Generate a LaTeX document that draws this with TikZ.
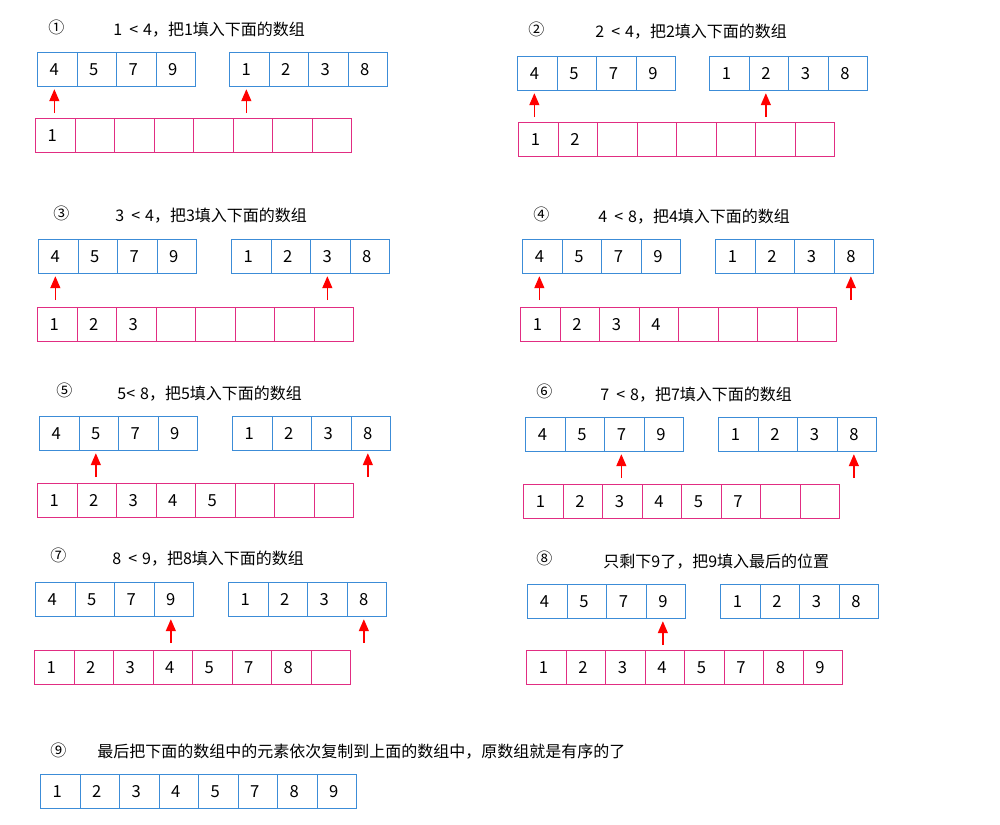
\documentclass[tikz,border=0pt]{standalone}
\usepackage{fontspec}
\setmainfont{Noto Sans CJK SC}
\usetikzlibrary{arrows.meta}
\definecolor{cellblue}{RGB}{60,140,215}
\definecolor{cellpink}{RGB}{225,45,130}
\tikzset{
  cell/.style={draw, anchor=north west, minimum width=19.75pt, minimum height=17pt,
    inner sep=0pt, line width=0.6pt, font=\fontsize{8.3}{9}\selectfont},
  ptr/.style={red, line width=0.7pt, -{Triangle[length=6pt,width=5pt]}, shorten >=1pt},
  steptitle/.style={anchor=west, inner sep=0pt, font=\fontsize{8}{9}\selectfont},
}
\newcommand\cellrow[5]{%
  \foreach \v [count=\i from 0] in {#5} {
    \node[cell, draw=#4] (#1\i) at ({#2+\i*39.5}, #3) {\hspace*{-3pt}\v};
  }
}
\newcommand\pointer[2]{%
  \coordinate (#1) at ([xshift=-1.5pt, yshift=-13pt]#2.south);
  \draw[ptr] (#1) -- (#1 |- #2.south);
}
\newcommand\lt{\hspace{3.5pt}<\hspace{2.5pt}}
\begin{document}
\begin{tikzpicture}[x=0.5pt, y=-0.5pt]
      \useasboundingbox[fill=white] (0,0) rectangle (1000,824);
      % 1
      \node[steptitle] (n1) at (48,27) {①};
      \node[steptitle] (t1) at (113,30) {1\lt 4，把1填入下面的数组};
      \cellrow{l1}{37}{52}{cellblue}{4,5,7,9}
      \cellrow{r1}{229}{52}{cellblue}{1,2,3,8}
      \cellrow{m1}{35}{118}{cellpink}{1,,,,,,,}
      \pointer{p1a}{l10}
      \pointer{p1b}{r10}
      % 2
      \node[steptitle] (n2) at (528,29) {②};
      \node[steptitle] (t2) at (595,32) {2\lt 4，把2填入下面的数组};
      \cellrow{l2}{517}{56}{cellblue}{4,5,7,9}
      \cellrow{r2}{709}{56}{cellblue}{1,2,3,8}
      \cellrow{m2}{518}{122}{cellpink}{1,2,,,,,,}
      \pointer{p2a}{l20}
      \pointer{p2b}{r21}
      % 3
      \node[steptitle] (n3) at (53,213) {③};
      \node[steptitle] (t3) at (115,216) {3\lt 4，把3填入下面的数组};
      \cellrow{l3}{38}{239}{cellblue}{4,5,7,9}
      \cellrow{r3}{231}{239}{cellblue}{1,2,3,8}
      \cellrow{m3}{37}{307}{cellpink}{1,2,3,,,,,}
      \pointer{p3a}{l30}
      \pointer{p3b}{r32}
      % 4
      \node[steptitle] (n4) at (533,214) {④};
      \node[steptitle] (t4) at (598,217) {4\lt 8，把4填入下面的数组};
      \cellrow{l4}{522}{239}{cellblue}{4,5,7,9}
      \cellrow{r4}{715}{239}{cellblue}{1,2,3,8}
      \cellrow{m4}{520}{307}{cellpink}{1,2,3,4,,,,}
      \pointer{p4a}{l40}
      \pointer{p4b}{r43}
      % 5
      \node[steptitle] (n5) at (56,390) {⑤};
      \node[steptitle] (t5) at (117,394) {5<\hspace{2.5pt}8，把5填入下面的数组};
      \cellrow{l5}{39}{416}{cellblue}{4,5,7,9}
      \cellrow{r5}{232}{416}{cellblue}{1,2,3,8}
      \cellrow{m5}{37}{483}{cellpink}{1,2,3,4,5,,,}
      \pointer{p5a}{l51}
      \pointer{p5b}{r53}
      % 6
      \node[steptitle] (n6) at (536,391) {⑥};
      \node[steptitle] (t6) at (600,395) {7\lt 8，把7填入下面的数组};
      \cellrow{l6}{525}{417}{cellblue}{4,5,7,9}
      \cellrow{r6}{718}{417}{cellblue}{1,2,3,8}
      \cellrow{m6}{523}{484}{cellpink}{1,2,3,4,5,7,,}
      \pointer{p6a}{l62}
      \pointer{p6b}{r63}
      % 7
      \node[steptitle] (n7) at (50,555) {⑦};
      \node[steptitle] (t7) at (112,559) {8\lt 9，把8填入下面的数组};
      \cellrow{l7}{35}{582}{cellblue}{4,5,7,9}
      \cellrow{r7}{228}{582}{cellblue}{1,2,3,8}
      \cellrow{m7}{34}{650}{cellpink}{1,2,3,4,5,7,8,}
      \pointer{p7a}{l73}
      \pointer{p7b}{r73}
      % 8
      \node[steptitle] (n8) at (536,558) {⑧};
      \node[steptitle] (t8) at (603,562) {只剩下9了，把9填入最后的位置};
      \cellrow{l8}{527}{584}{cellblue}{4,5,7,9}
      \cellrow{r8}{720}{584}{cellblue}{1,2,3,8}
      \cellrow{m8}{526}{650}{cellpink}{1,2,3,4,5,7,8,9}
      \pointer{p8a}{l83}
      % 9
      \node[steptitle] (n9) at (50,750) {⑨};
      \node[steptitle] (t9) at (97,752) {最后把下面的数组中的元素依次复制到上面的数组中，原数组就是有序的了};
      \cellrow{m9}{40}{774}{cellblue}{1,2,3,4,5,7,8,9}
    \end{tikzpicture}
\end{document}
